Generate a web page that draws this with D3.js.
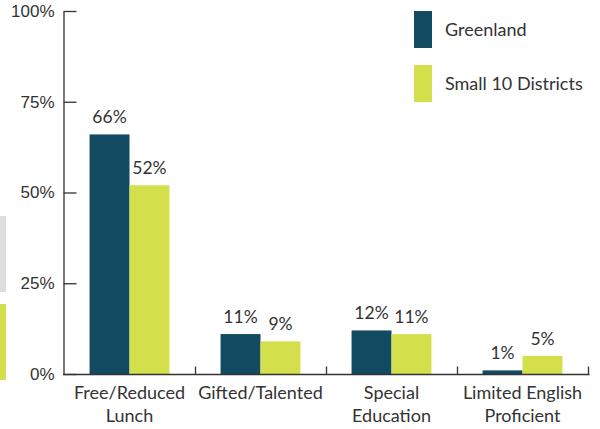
<!DOCTYPE html>
<html>
<head>
<meta charset="utf-8">
<script src="https://cdn.jsdelivr.net/npm/d3@7"></script>
<style>
  html, body { margin: 0; padding: 0; background: #fff; }
  svg { display: block; font-family: "Source Sans Pro", Lato, "Open Sans", sans-serif; }
</style>
</head>
<body>
<svg id="chart" width="600" height="429"></svg>
<script>
// ---- data ----
const categories = [["Free/Reduced", "Lunch"], ["Gifted/Talented"], ["Special", "Education"], ["Limited English", "Proficient"]];
const seriesNames = ["Greenland", "Small 10 Districts"];
const greenland = [66, 11, 12, 1];
const small10 = [52, 9, 11, 5];
const yTicks = [0, 25, 50, 75, 100];

const colors = ["#124a61", "#d4e04b"];
const textColor = "#333333";

const svg = d3.select("#chart");
const catKeys = categories.map(c => c.join(" "));
const seriesValues = [greenland, small10];

const x0 = d3.scaleBand().domain(catKeys).range([64, 588]).paddingInner(0).paddingOuter(0);
const x1 = d3.scaleBand().domain(seriesNames).range([0, x0.bandwidth()]).paddingInner(0).paddingOuter(0.64);
const y = d3.scaleLinear().domain([0, 100]).range([374, 11]);

// decorative fragments at left edge
svg.append("rect").attr("x", 0).attr("y", 216).attr("width", 6).attr("height", 76).attr("fill", "#dcdddf");
svg.append("rect").attr("x", 0).attr("y", 304).attr("width", 6).attr("height", 76).attr("fill", colors[1]);

// bars
const data = [];
catKeys.forEach((c, i) => seriesNames.forEach((s, j) => data.push({ cat: c, series: s, value: seriesValues[j][i], j })));

svg.append("g").selectAll("rect").data(data).join("rect")
  .attr("x", d => x0(d.cat) + x1(d.series))
  .attr("width", x1.bandwidth())
  .attr("y", d => y(d.value))
  .attr("height", d => y(0) - y(d.value))
  .attr("fill", d => colors[d.j]);

// value labels
svg.append("g").selectAll("text").data(data).join("text")
  .attr("x", d => x0(d.cat) + x1(d.series) + x1.bandwidth() / 2)
  .attr("y", d => y(d.value) - 11)
  .attr("text-anchor", "middle")
  .attr("font-size", 17.5)
  .attr("fill", textColor)
  .text(d => d.value + "%");

// y axis
const yAxis = d3.axisLeft(y).tickValues(yTicks).tickFormat(d => d + "%")
  .tickSizeInner(-13).tickSizeOuter(0).tickPadding(9);
const gy = svg.append("g").attr("transform", "translate(63.5,0)").call(yAxis);
gy.selectAll("path, line").attr("stroke", textColor).attr("stroke-width", 1.3);
gy.selectAll("text").attr("font-size", 17).attr("fill", textColor).attr("font-family", null);

// x axis
const gx = svg.append("g").attr("transform", "translate(0,374.5)");
gx.append("line").attr("x1", 63).attr("x2", 589.5).attr("stroke", textColor).attr("stroke-width", 1.3);
gx.selectAll("line.tick").data(catKeys).join("line").attr("class", "tick")
  .attr("x1", d => x0(d) + x0.bandwidth() + 0.5).attr("x2", d => x0(d) + x0.bandwidth() + 0.5)
  .attr("y1", 0).attr("y2", -8).attr("stroke", textColor).attr("stroke-width", 1.3);
const lbl = gx.selectAll("text.cat").data(categories).join("text").attr("class", "cat")
  .attr("text-anchor", "middle")
  .attr("font-size", 18)
  .attr("fill", textColor)
  .attr("transform", (d, i) => `translate(${x0(catKeys[i]) + x0.bandwidth() / 2},0)`);
lbl.selectAll("tspan").data(d => d).join("tspan")
  .attr("x", 0).attr("y", (d, i) => 24.5 + i * 23).text(d => d);

// legend
const lg = svg.append("g");
seriesNames.forEach((s, i) => {
  lg.append("rect").attr("x", 414).attr("y", 11 + i * 54).attr("width", 18).attr("height", 37).attr("fill", colors[i]);
  lg.append("text").attr("x", 445).attr("y", 30 + i * 54).attr("dy", "0.35em")
    .attr("font-size", 18).attr("fill", textColor).text(s);
});
</script>
</body>
</html>
